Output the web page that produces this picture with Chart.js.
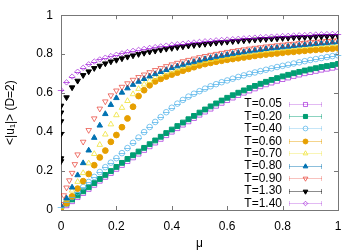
<!DOCTYPE html>
<html>
<head>
<meta charset="utf-8">
<title>&lt;|u1|&gt; vs mu</title>
<style>
  html, body { margin: 0; padding: 0; background: #fff; }
  #wrap { width: 360px; height: 252px; }
</style>
</head>
<body>
<div id="wrap"><canvas id="chart" width="360" height="252"></canvas></div>
<script src="https://cdn.jsdelivr.net/npm/chart.js@4"></script>
<script>
// mu grid (step 0.02)
const mu = [0,0.02,0.04,0.06,0.08,0.10,0.12,0.14,0.16,0.18,0.20,0.22,0.24,0.26,0.28,0.30,0.32,0.34,0.36,0.38,0.40,
  0.42,0.44,0.46,0.48,0.50,0.52,0.54,0.56,0.58,0.60,0.62,0.64,0.66,0.68,0.70,0.72,0.74,0.76,0.78,0.80,
  0.82,0.84,0.86,0.88,0.90,0.92,0.94,0.96,0.98,1.00];
// T=0.90 has a few extra points near zero
const muT090 = [0,0.01,0.02,0.03,0.04,0.05,0.06,0.08,0.10,0.12,0.14,0.16,0.18,0.20,0.22,0.24,0.26,0.28,0.30,0.32,0.34,
  0.36,0.38,0.40,0.42,0.44,0.46,0.48,0.50,0.52,0.54,0.56,0.58,0.60,0.62,0.64,0.66,0.68,0.70,0.72,0.74,
  0.76,0.78,0.80,0.82,0.84,0.86,0.88,0.90,0.92,0.94,0.96,0.98,1.00];

const T005 = [0.005,0.024,0.045,0.066,0.087,0.108,0.129,0.150,0.170,0.190,0.211,0.231,0.251,0.270,0.289,0.308,0.327,
  0.346,0.365,0.384,0.402,0.420,0.438,0.455,0.472,0.489,0.505,0.520,0.535,0.550,0.564,0.577,0.590,0.602,0.613,
  0.624,0.635,0.645,0.654,0.663,0.672,0.680,0.688,0.695,0.702,0.708,0.714,0.720,0.725,0.730,0.735];
const T020 = [0.012,0.033,0.054,0.075,0.096,0.117,0.138,0.159,0.180,0.200,0.221,0.242,0.262,0.281,0.300,0.319,0.338,
  0.357,0.376,0.395,0.413,0.431,0.449,0.466,0.483,0.500,0.516,0.532,0.547,0.562,0.576,0.589,0.602,0.614,0.626,
  0.637,0.648,0.658,0.668,0.677,0.686,0.694,0.702,0.709,0.716,0.722,0.728,0.734,0.739,0.744,0.750];
const T040 = [0.015,0.040,0.066,0.092,0.118,0.144,0.170,0.195,0.220,0.243,0.266,0.292,0.318,0.345,0.372,0.400,0.426,
  0.452,0.477,0.502,0.525,0.546,0.565,0.582,0.597,0.610,0.623,0.635,0.646,0.656,0.665,0.674,0.683,0.691,0.699,
  0.706,0.713,0.720,0.727,0.734,0.740,0.746,0.752,0.758,0.764,0.770,0.775,0.780,0.785,0.790,0.794];
const T060 = [0.010,0.035,0.070,0.110,0.148,0.185,0.230,0.270,0.305,0.350,0.385,0.425,0.470,0.530,0.585,0.615,0.640,
  0.660,0.673,0.685,0.695,0.705,0.715,0.724,0.733,0.742,0.749,0.755,0.761,0.766,0.771,0.775,0.779,0.783,0.787,
  0.791,0.795,0.798,0.801,0.804,0.807,0.810,0.812,0.815,0.817,0.820,0.822,0.824,0.826,0.828,0.830];
const T070 = [0.015,0.055,0.100,0.145,0.190,0.240,0.288,0.335,0.388,0.440,0.487,0.525,0.560,0.595,0.622,0.645,0.663,
  0.680,0.694,0.706,0.716,0.726,0.735,0.743,0.751,0.758,0.765,0.771,0.777,0.783,0.788,0.793,0.798,0.803,0.807,
  0.811,0.815,0.819,0.822,0.826,0.829,0.832,0.835,0.838,0.841,0.843,0.846,0.848,0.850,0.852,0.854];
const T080 = [0.020,0.060,0.116,0.179,0.241,0.306,0.371,0.434,0.493,0.540,0.575,0.603,0.625,0.643,0.659,0.673,0.686,
  0.698,0.709,0.719,0.729,0.738,0.746,0.754,0.761,0.768,0.775,0.781,0.787,0.792,0.797,0.802,0.807,0.811,0.815,
  0.819,0.823,0.827,0.830,0.833,0.836,0.839,0.842,0.845,0.848,0.850,0.853,0.855,0.857,0.860,0.862];
const T090 = [0.030,0.075,0.115,0.152,0.190,0.235,0.285,0.350,0.410,0.470,0.520,0.557,0.588,0.613,0.632,0.650,0.668,
  0.682,0.695,0.707,0.718,0.728,0.738,0.747,0.755,0.763,0.770,0.777,0.784,0.790,0.796,0.801,0.806,0.811,0.816,
  0.820,0.824,0.828,0.832,0.835,0.839,0.842,0.845,0.848,0.851,0.853,0.856,0.858,0.861,0.863,0.865,0.867,0.869,0.871];
const T130 = [0.390,0.578,0.629,0.663,0.692,0.711,0.728,0.740,0.752,0.762,0.770,0.778,0.786,0.793,0.800,0.806,0.812,
  0.817,0.822,0.827,0.831,0.835,0.839,0.843,0.846,0.849,0.852,0.855,0.858,0.861,0.863,0.866,0.868,0.870,0.872,
  0.874,0.876,0.877,0.879,0.880,0.882,0.883,0.885,0.886,0.887,0.888,0.889,0.890,0.891,0.892,0.893];
// other T=1.30 samples at mu=0 (spread with an error bar)
const T130zero = [0.250,0.265,0.455,0.500,0.535];
const T140 = [0.615,0.655,0.685,0.710,0.730,0.748,0.762,0.773,0.782,0.790,0.797,0.804,0.811,0.817,0.822,0.827,0.832,
  0.836,0.840,0.844,0.848,0.851,0.854,0.857,0.860,0.863,0.866,0.868,0.871,0.873,0.875,0.877,0.879,0.881,0.883,
  0.885,0.887,0.888,0.890,0.891,0.893,0.894,0.896,0.897,0.898,0.900,0.901,0.902,0.903,0.904,0.905];

const seriesLabels = ['T=0.05','T=0.20','T=0.40','T=0.60','T=0.70','T=0.80','T=0.90','T=1.30','T=1.40'];
const xTickVals = [0, 0.2, 0.4, 0.6, 0.8, 1];
const xTickLabels = ['0','0.2','0.4','0.6','0.8','1'];
const yTickVals = [0, 0.2, 0.4, 0.6, 0.8, 1];
const yTickLabels = ['0','0.2','0.4','0.6','0.8','1'];

const FONT = "'Liberation Sans', Arial, Helvetica, sans-serif";
Chart.defaults.font.family = FONT;
Chart.defaults.font.size = 12;
Chart.defaults.color = '#000';

function pts(xs, ys) { return ys.map((y, i) => ({ x: xs[i], y: y })); }

// open markers are drawn a little lighter, like the thin gnuplot outlines
const series = [
  { xs: mu, ys: T005, color: 'rgba(148,0,211,0.6)', style: 'rect', fill: false, r: 3.4 },
  { xs: mu, ys: T020, color: '#009e73', style: 'rect', fill: true, r: 3.4 },
  { xs: mu, ys: T040, color: 'rgba(86,180,233,0.75)', style: 'circle', fill: false, r: 2.8, cap: true },
  { xs: mu, ys: T060, color: '#e69f00', style: 'circle', fill: true, r: 2.9 },
  { xs: mu, ys: T070, color: 'rgba(240,228,66,0.85)', style: 'triangle', fill: false, r: 3.2 },
  { xs: mu, ys: T080, color: '#0072b2', style: 'triangle', fill: true, r: 3.2 },
  { xs: muT090, ys: T090, color: 'rgba(229,30,16,0.6)', style: 'triangle', rot: 180, fill: false, r: 3.2 },
  { xs: mu, ys: T130, color: '#000000', style: 'triangle', rot: 180, fill: true, r: 3.2 },
  { xs: mu, ys: T140, color: 'rgba(148,0,211,0.6)', style: 'rectRot', fill: false, r: 2.7, cap: true }
];

function makeDataset(s, label, data, order) {
  return {
    label: label,
    data: data,
    order: order,
    showLine: false,
    pointStyle: s.style,
    pointRotation: s.rot || 0,
    pointRadius: s.r,
    pointHoverRadius: s.r,
    pointBorderWidth: 1,
    pointBorderColor: s.color,
    pointBackgroundColor: s.fill ? s.color : 'rgba(0,0,0,0)',
    borderColor: s.color,
    borderWidth: 1,
    cap: !!s.cap
  };
}

const datasets = series.map((s, i) => makeDataset(s, seriesLabels[i], pts(s.xs, s.ys), 100 - i));
// vertical spread of the T=1.30 values at mu=0
const zero = makeDataset(series[7], seriesLabels[7], T130zero.map(y => ({ x: 0, y: y })), 10);
zero.showLine = true;
datasets.push(zero);

// gnuplot-like frame with inward ticks on all sides
const framePlugin = {
  id: 'frame',
  beforeDatasetsDraw(chart) {
    const { ctx, chartArea: a, scales } = chart;
    ctx.save();
    ctx.strokeStyle = '#777';
    ctx.lineWidth = 1;
    ctx.strokeRect(Math.round(a.left) + 0.5, Math.round(a.top) + 0.5,
      Math.round(a.right - a.left), Math.round(a.bottom - a.top));
    const L = 4;
    ctx.beginPath();
    xTickVals.forEach(v => {
      const x = Math.round(scales.x.getPixelForValue(v)) + 0.5;
      ctx.moveTo(x, a.bottom); ctx.lineTo(x, a.bottom - L);
      ctx.moveTo(x, a.top); ctx.lineTo(x, a.top + L);
    });
    yTickVals.forEach(v => {
      const y = Math.round(scales.y.getPixelForValue(v)) + 0.5;
      ctx.moveTo(a.left, y); ctx.lineTo(a.left + L, y);
      ctx.moveTo(a.right, y); ctx.lineTo(a.right - L, y);
    });
    ctx.stroke();
    ctx.restore();
  },
  afterDatasetsDraw(chart) {
    // small error-bar caps crossing the open circles / diamonds
    const ctx = chart.ctx;
    ctx.save();
    ctx.lineWidth = 1;
    chart.data.datasets.forEach((ds, i) => {
      if (!ds.cap) return;
      const meta = chart.getDatasetMeta(i);
      ctx.strokeStyle = ds.borderColor;
      ctx.beginPath();
      meta.data.forEach(p => {
        const y = Math.round(p.y) + 0.5;
        ctx.moveTo(p.x - ds.pointRadius - 0.5, y);
        ctx.lineTo(p.x + ds.pointRadius + 0.5, y);
      });
      ctx.stroke();
    });
    ctx.restore();
  }
};

// key in the lower right: text right-aligned, then error-bar sample with marker
const keyPlugin = {
  id: 'key',
  afterDraw(chart) {
    const ctx = chart.ctx;
    const textRight = 282, x0 = 289, x1 = 322, top = 103.5, step = 12.43;
    ctx.save();
    ctx.font = '12px ' + FONT;
    ctx.textAlign = 'right';
    ctx.textBaseline = 'middle';
    series.forEach((s, i) => {
      const y = top + i * step;
      ctx.fillStyle = '#000';
      ctx.fillText(seriesLabels[i], textRight, y + 0.5);
      const yy = Math.round(y) + 0.5;
      ctx.globalAlpha = 0.45;
      ctx.strokeStyle = s.color;
      ctx.lineWidth = 1;
      ctx.beginPath();
      ctx.moveTo(x0, yy); ctx.lineTo(x1, yy);
      ctx.moveTo(x0 + 0.5, yy - 2.5); ctx.lineTo(x0 + 0.5, yy + 2.5);
      ctx.moveTo(x1 - 0.5, yy - 2.5); ctx.lineTo(x1 - 0.5, yy + 2.5);
      ctx.stroke();
      ctx.globalAlpha = 1;
      ctx.fillStyle = s.fill ? s.color : 'rgba(0,0,0,0)';
      ctx.strokeStyle = s.color;
      Chart.helpers.drawPoint(ctx, {
        pointStyle: s.style, radius: s.r * 0.85, rotation: s.rot || 0, borderWidth: 1
      }, (x0 + x1) / 2, yy);
    });
    ctx.restore();
  }
};

new Chart(document.getElementById('chart'), {
  type: 'scatter',
  data: { datasets: datasets },
  options: {
    responsive: false,
    animation: false,
    devicePixelRatio: 1,
    layout: { padding: { top: 14, right: 22, left: 0, bottom: 0 } },
    plugins: { legend: { display: false }, tooltip: { enabled: false } },
    scales: {
      x: {
        type: 'linear', min: 0, max: 1,
        afterBuildTicks: s => { s.ticks = xTickVals.map(v => ({ value: v })); },
        afterFit: s => { s.height = 42; },
        ticks: { callback: (v, i) => xTickLabels[i], padding: 9, maxRotation: 0, autoSkip: false },
        grid: { display: false, drawTicks: false },
        border: { display: false },
        title: { display: true, text: 'μ', padding: { top: 0, bottom: 1 } }
      },
      y: {
        type: 'linear', min: 0, max: 1,
        afterBuildTicks: s => { s.ticks = yTickVals.map(v => ({ value: v })); },
        afterFit: s => { s.width = 61; },
        ticks: { callback: (v, i) => yTickLabels[i], padding: 8, autoSkip: false },
        grid: { display: false, drawTicks: false },
        border: { display: false },
        title: { display: true, text: '<|u₁|> (D=2)', padding: { top: 3, bottom: 0 } }
      }
    }
  },
  plugins: [framePlugin, keyPlugin]
});
</script>
</body>
</html>
